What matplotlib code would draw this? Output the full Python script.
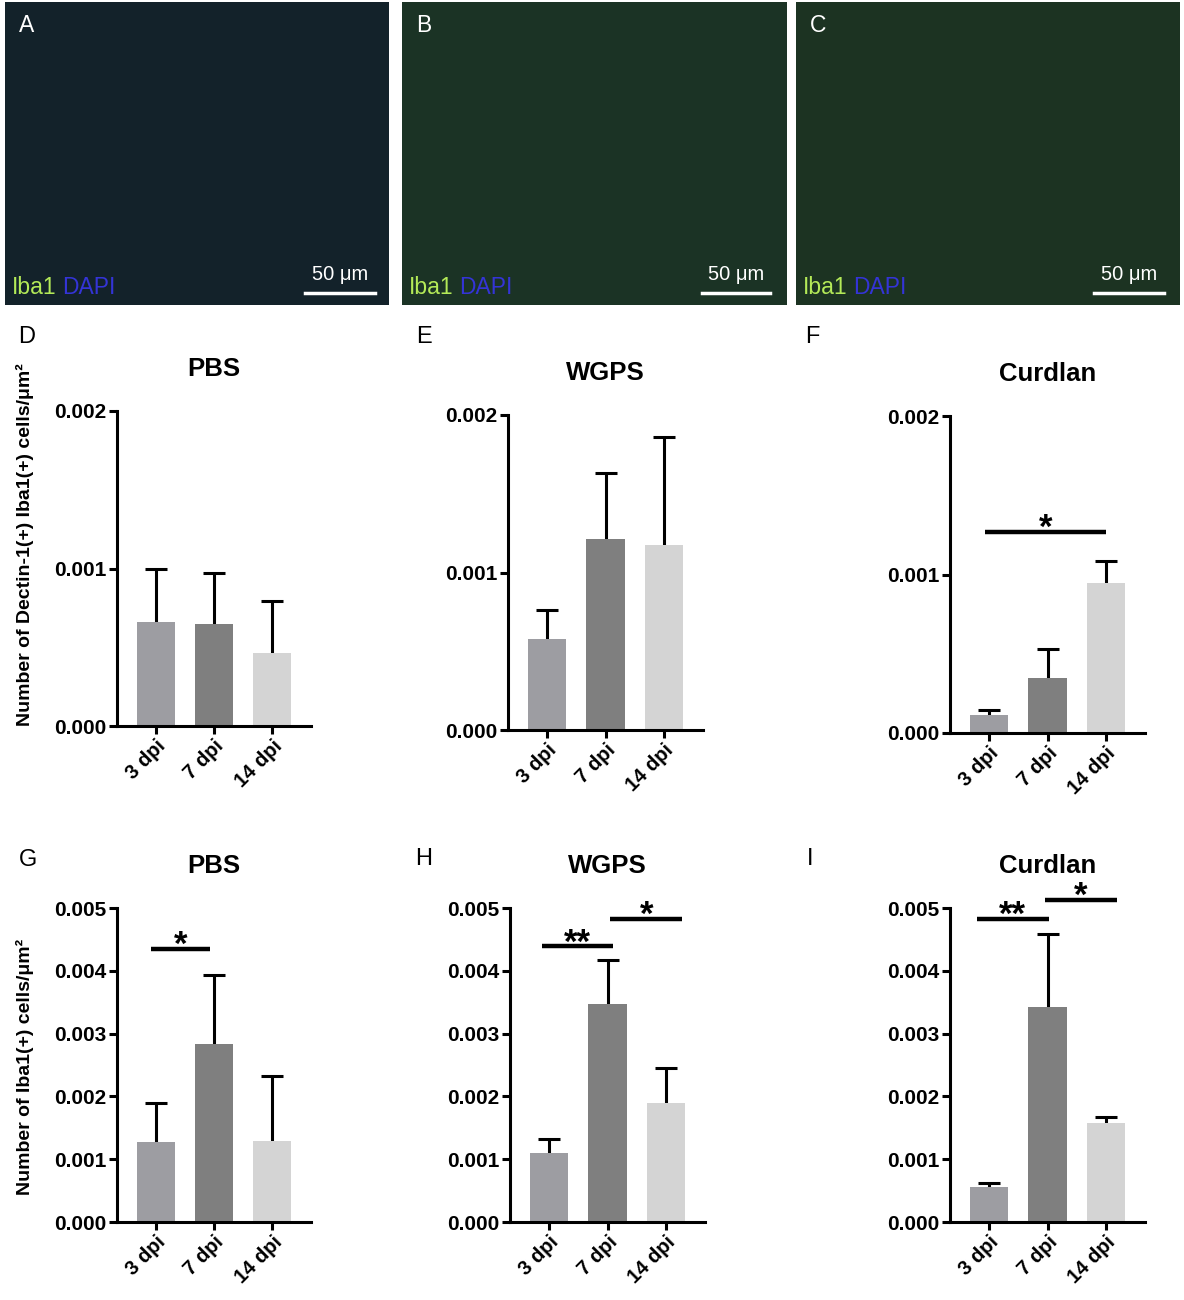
import matplotlib
matplotlib.use("Agg")
import matplotlib.pyplot as plt

plt.rcParams['font.family'] = ['Liberation Sans', 'DejaVu Sans']

W, H = 1184, 1300

groups = ['3 dpi', '7 dpi', '14 dpi']
bar_colors = ['#9d9da2', '#7f7f7f', '#d4d4d4']

# Dectin-1(+) Iba1(+) cells / um2 (mean, upper error)
pbs_dectin = [0.000662, 0.000646, 0.000462]
pbs_dectin_err = [0.000335, 0.000324, 0.000332]
wgps_dectin = [0.000576, 0.001211, 0.001175]
wgps_dectin_err = [0.000186, 0.000419, 0.000687]
curd_dectin = [0.000116, 0.000347, 0.000947]
curd_dectin_err = [0.000032, 0.000182, 0.000137]

# Iba1(+) cells / um2
pbs_iba = [0.001268, 0.00283, 0.001293]
pbs_iba_err = [0.000632, 0.0011, 0.001034]
wgps_iba = [0.001093, 0.003464, 0.0019]
wgps_iba_err = [0.000223, 0.000704, 0.000545]
curd_iba = [0.000552, 0.003416, 0.00157]
curd_iba_err = [0.000074, 0.001177, 0.000105]

# significance brackets: (from, to, height, label)
sig_F = [(-0.07, 2.0, 0.00127, '*')]
sig_G = [(-0.09, 0.93, 0.00435, '*')]
sig_H = [(-0.12, 1.09, 0.00439, '**'), (1.05, 2.28, 0.00483, '*')]
sig_I = [(-0.21, 1.02, 0.00483, '**'), (0.95, 2.19, 0.00513, '*')]


def px_axes(fig, x0, y0, x1, y1):
    return fig.add_axes([x0 / W, 1 - y1 / H, (x1 - x0) / W, (y1 - y0) / H])


def ftext(fig, x, y, s, **kw):
    fig.text(x / W, 1 - y / H, s, **kw)


fig = plt.figure(figsize=(W / 100, H / 100), dpi=100)

# microscopy panels (placeholders, flat colour)
images = [
    ('A', (5, 2, 389, 305), '#13222a', (305, 375)),
    ('B', (402, 2, 787, 305), '#1b3325', (702, 770)),
    ('C', (796, 2, 1180, 305), '#1c3322', (1094, 1164)),
]
for letter, (x0, y0, x1, y1), col, (s0, s1) in images:
    ax = px_axes(fig, x0, y0, x1, y1)
    ax.set_facecolor(col)
    ax.set_xticks([])
    ax.set_yticks([])
    for sp in ax.spines.values():
        sp.set_visible(False)
    ftext(fig, x0 + 22, 26, letter, color='white', fontsize=16.5,
          ha='center', va='center')
    ftext(fig, x0 + 7, 287, 'Iba1', color='#b4ea58', fontsize=16.5,
          ha='left', va='center')
    ftext(fig, x0 + 57, 287, 'DAPI', color='#3434d6', fontsize=16.5,
          ha='left', va='center')
    ftext(fig, (s0 + s1) / 2, 275, '50 μm', color='white', fontsize=14.5,
          ha='center', va='center')
    fig.add_artist(plt.Line2D([s0 / W, s1 / W], [1 - 293 / H, 1 - 293 / H],
                              color='white', lw=2.5))

panels = [
    ('D', 'PBS', (117, 411, 311, 726), pbs_dectin, pbs_dectin_err, 0.002, [], (27, 337)),
    ('E', 'WGPS', (508, 415, 703, 730), wgps_dectin, wgps_dectin_err, 0.002, [], (424, 337)),
    ('F', 'Curdlan', (950, 416, 1145, 733), curd_dectin, curd_dectin_err, 0.002, sig_F, (812, 337)),
    ('G', 'PBS', (117, 908, 311, 1222), pbs_iba, pbs_iba_err, 0.005, sig_G, (28, 860)),
    ('H', 'WGPS', (510, 908, 705, 1222), wgps_iba, wgps_iba_err, 0.005, sig_H, (424, 859)),
    ('I', 'Curdlan', (950, 908, 1145, 1222), curd_iba, curd_iba_err, 0.005, sig_I, (810, 859)),
]

x = [0, 1, 2]
for letter, title, box, vals, errs, ymax, sigs, lpos in panels:
    ax = px_axes(fig, *box)
    ax.bar(x, vals, width=0.66, color=bar_colors, zorder=2)
    eb = ax.errorbar(x, vals, yerr=[[0, 0, 0], errs], fmt='none', ecolor='black',
                     elinewidth=2.2, capsize=8, capthick=2.2, zorder=1)
    eb.lines[1][0].set_visible(False)  # no cap at the bar top
    ax.set_xlim(-0.67, 2.67)
    ax.set_ylim(0, ymax)
    step = 0.001
    ticks = [i * step for i in range(int(round(ymax / step)) + 1)]
    ax.set_yticks(ticks)
    ax.set_yticklabels(['%.3f' % t for t in ticks], fontweight='bold', fontsize=15)
    ax.set_xticks(x)
    ax.set_xticklabels(groups, rotation=45, ha='right', rotation_mode='anchor',
                       fontweight='bold', fontsize=14.5)
    for side in ('top', 'right'):
        ax.spines[side].set_visible(False)
    for side in ('left', 'bottom'):
        ax.spines[side].set_linewidth(2.2)
    ax.tick_params(axis='both', width=2.2, length=5.5, pad=2)
    ax.set_title(title, fontsize=18.5, fontweight='bold', pad=25)
    for a, b, h, lab in sigs:
        ax.plot([a, b], [h, h], color='black', lw=3.2, clip_on=False,
                solid_capstyle='butt')
        ax.annotate(lab, xy=((a + b) / 2, h), xytext=(0, -4.5),
                    textcoords='offset points', ha='center', va='baseline',
                    fontsize=25, fontweight='bold', annotation_clip=False)
    ftext(fig, lpos[0], lpos[1], letter, fontsize=17, ha='center', va='center')

ftext(fig, 25, 545, 'Number of Dectin-1(+) Iba1(+) cells/μm²', rotation=90,
      fontsize=14, fontweight='bold', ha='center', va='center')
ftext(fig, 25, 1067, 'Number of Iba1(+) cells/μm²', rotation=90,
      fontsize=14, fontweight='bold', ha='center', va='center')

fig.savefig('out.png', dpi=100)
